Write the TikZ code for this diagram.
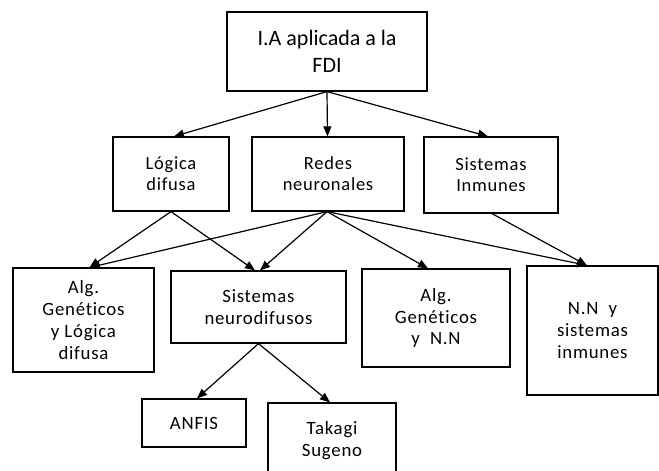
\documentclass[tikz,border=0pt]{standalone}
\usepackage{fontspec}
\setmainfont[Ligatures=NoCommon]{Carlito}
\newfontfamily\spacedfont[LetterSpace=4,Ligatures=NoCommon]{Carlito}
\usetikzlibrary{arrows.meta}
\tikzset{
  box/.style={draw, line width=1.2pt, rectangle, inner sep=0pt, align=center, anchor=center},
  topfont/.style={font=\fontsize{22}{27}\selectfont},
  midfont/.style={font=\spacedfont\fontsize{18.5}{21}\selectfont},
  lowfont/.style={font=\spacedfont\fontsize{18.8}{21.7}\selectfont},
  conn/.style={line width=1.2pt, -{Triangle[length=10pt,width=8pt]}}
}
\begin{document}
\begin{tikzpicture}[x=1pt,y=-1pt]
\useasboundingbox (0,0) rectangle (659,471);
% top
\node[box,topfont,minimum width=200pt,minimum height=79pt] (top) at (327,51.5) {I.A aplicada a la\\FDI};
% second level
\node[box,midfont,minimum width=116pt,minimum height=74pt] (log) at (171,174) {Lógica\\difusa};
\node[box,midfont,minimum width=152pt,minimum height=74pt] (red) at (328,174) {Redes\\neuronales};
\node[box,midfont,minimum width=134pt,minimum height=76pt] (sin) at (491,175) {Sistemas\\Inmunes};
% third level
\node[box,lowfont,minimum width=141pt,minimum height=104pt] (agl) at (83.5,320) {Alg.\\Genéticos\\y Lógica\\difusa};
\node[box,lowfont,minimum width=175pt,minimum height=72pt] (snd) at (258.5,307) {Sistemas\\neurodifusos};
\node[box,lowfont,minimum width=148pt,minimum height=98pt] (agn) at (436,318) {Alg.\\Genéticos\\y~~N.N};
\node[box,lowfont,minimum width=131pt,minimum height=129pt] (nns) at (592.5,330.5) {N.N~~y\\sistemas\\inmunes};
% fourth level
\node[box,lowfont,minimum width=104pt,minimum height=48pt] (anf) at (194,423) {ANFIS};
\node[box,lowfont,minimum width=128pt,minimum height=75pt] (tak) at (332,440.5) {Takagi\\Sugeno};
% connectors
\draw[conn] (top.south) -- ([xshift=3pt]log.north);
\draw[conn] (top.south) -- ([xshift=-0.5pt]red.north);
\draw[conn] (top.south) -- ([xshift=-3pt]sin.north);
\draw[conn] (log.south) -- ([xshift=6pt]agl.north);
\draw[conn] (log.south) -- ([xshift=-3.5pt]snd.north);
\draw[conn] ([xshift=-1pt]red.south) -- ([xshift=6.5pt]agl.north);
\draw[conn] ([xshift=-1pt]red.south) -- ([xshift=1.5pt]snd.north);
\draw[conn] ([xshift=-1pt]red.south) -- ([xshift=-8pt]agn.north);
\draw[conn] ([xshift=-1pt]red.south) -- ([xshift=-5.5pt]nns.north);
\draw[conn] ([xshift=1pt]sin.south) -- ([xshift=-5.5pt]nns.north);
\draw[conn] (snd.south) -- ([xshift=3pt]anf.north);
\draw[conn] (snd.south) -- ([xshift=-2pt]tak.north);
\end{tikzpicture}
\end{document}
